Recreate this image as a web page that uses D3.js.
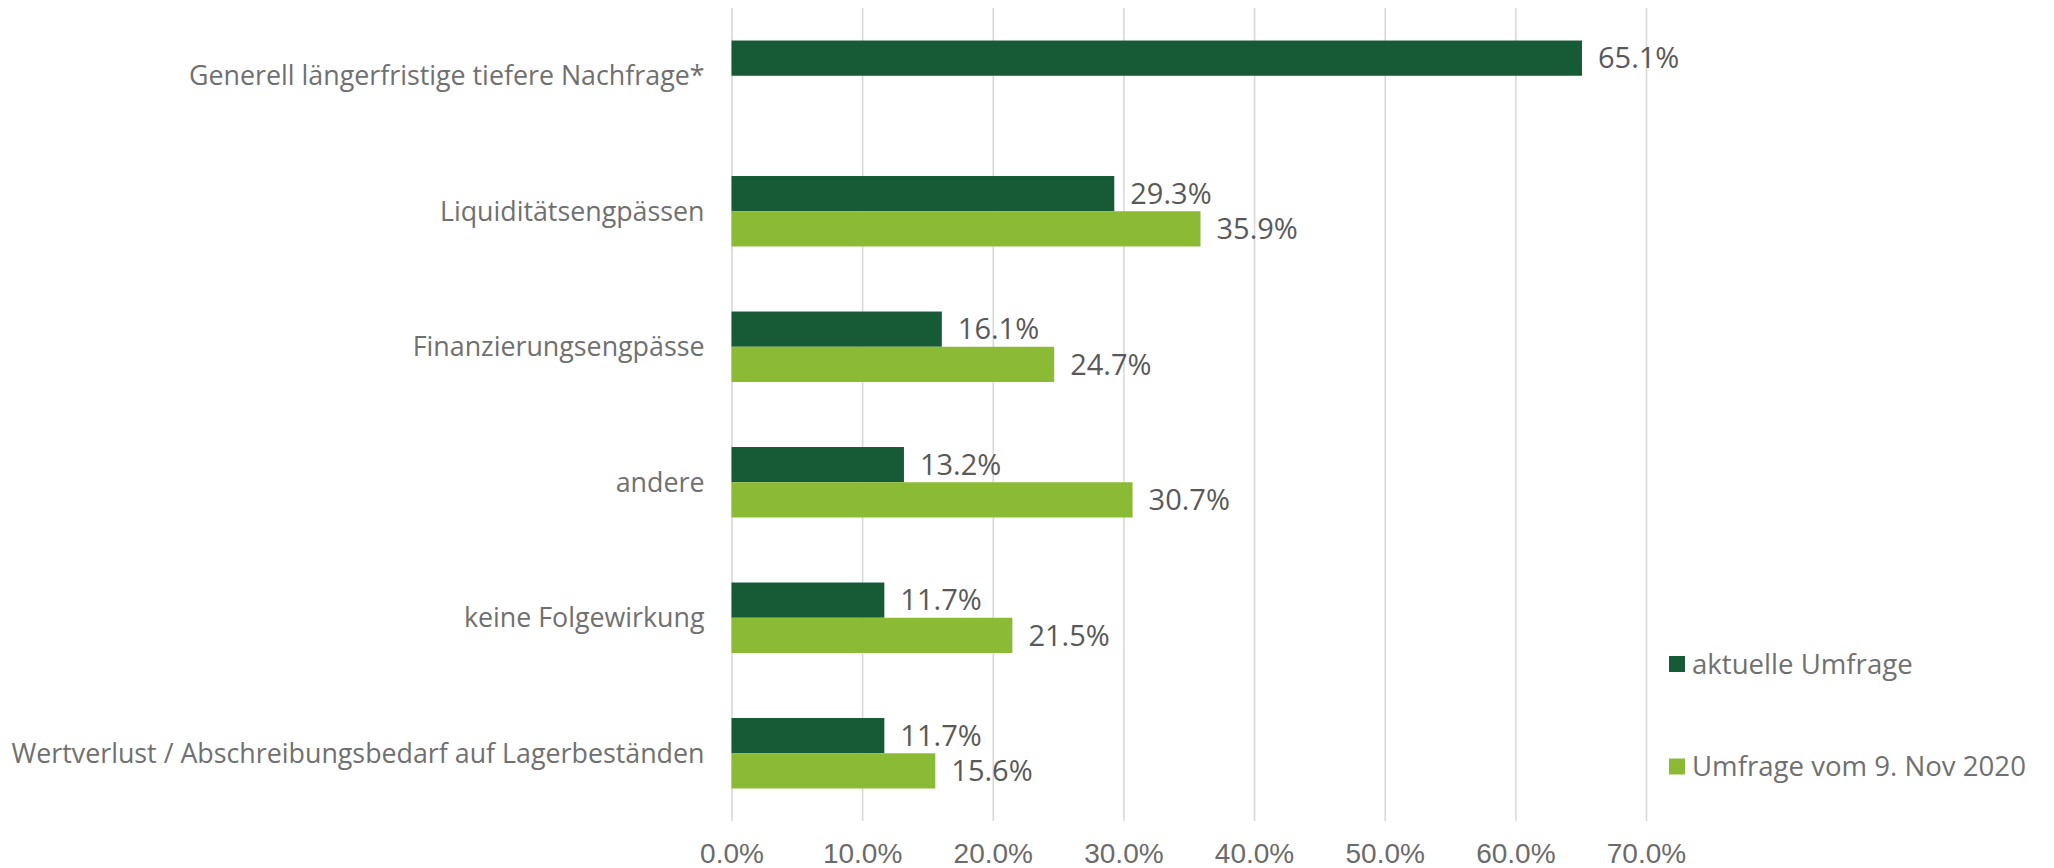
<!DOCTYPE html>
<html>
<head>
<meta charset="utf-8">
<script src="https://cdn.jsdelivr.net/npm/d3@7"></script>
<style>
  html, body { margin: 0; padding: 0; background: #fff; }
  svg { display: block; font-family: "Open Sans", "Noto Sans", sans-serif; }
</style>
</head>
<body>
<div id="chart"></div>
<script>
// chart data
const categories = [
  'Generell längerfristige tiefere Nachfrage*',
  'Liquiditätsengpässen',
  'Finanzierungsengpässe',
  'andere',
  'keine Folgewirkung',
  'Wertverlust / Abschreibungsbedarf auf Lagerbeständen'
];
const seriesNames = ['aktuelle Umfrage', 'Umfrage vom 9. Nov 2020'];
const aktuell = [65.1, 29.3, 16.1, 13.2, 11.7, 11.7];
const nov2020 = [null, 35.9, 24.7, 30.7, 21.5, 15.6];
const xTicks = [0, 10, 20, 30, 40, 50, 60, 70];
const colors = ['#165b35', '#8bbb35'];

const width = 2054, height = 868;
const margin = { top: 8, right: 408, bottom: 47, left: 731.5 };
const innerW = width - margin.left - margin.right;
const innerH = height - margin.top - margin.bottom;

const svg = d3.select('#chart').append('svg')
  .attr('width', width).attr('height', height)
  .attr('viewBox', `0 0 ${width} ${height}`);

const g = svg.append('g').attr('transform', `translate(${margin.left},${margin.top})`);

const x = d3.scaleLinear().domain([0, 70]).range([0, innerW]);
const y = d3.scaleBand().domain(categories).range([0, innerH]).paddingInner(0).paddingOuter(0);
// two bars per category, together about half of the band
const ySub = d3.scaleBand().domain([0, 1]).range([y.bandwidth() * 0.24, y.bandwidth() * 0.76]);

// gridlines + tick labels
const xAxis = d3.axisBottom(x).tickValues(xTicks).tickSize(-innerH).tickPadding(22)
  .tickFormat(d => d.toFixed(1) + '%');
const ax = g.append('g').attr('transform', `translate(0,${innerH})`).call(xAxis);
ax.select('.domain').remove();
ax.selectAll('.tick line').attr('stroke', '#d9d9d9').attr('stroke-width', 1.6);
ax.selectAll('.tick text').attr('fill', '#6b6b6b').style('font-size', '28px');

// bars
const rows = categories.map((c, i) => ({ cat: c, vals: [aktuell[i], nov2020[i]] }));
const grp = g.selectAll('g.cat').data(rows).enter().append('g')
  .attr('class', 'cat')
  .attr('transform', d => `translate(0,${y(d.cat)})`);

const bars = grp.selectAll('g.bar')
  .data(d => d.vals.map((v, k) => ({ v, k })).filter(b => b.v != null))
  .enter().append('g').attr('class', 'bar');

bars.append('rect')
  .attr('x', 0)
  .attr('y', d => ySub(d.k))
  .attr('width', d => x(d.v))
  .attr('height', ySub.bandwidth())
  .attr('fill', d => colors[d.k]);

bars.append('text')
  .attr('x', d => x(d.v) + 16)
  .attr('y', d => ySub(d.k) + ySub.bandwidth() / 2)
  .attr('dy', '0.35em')
  .attr('fill', '#595959')
  .style('font-size', '29px')
  .text(d => d.v.toFixed(1) + '%');

// category labels
g.selectAll('text.cat-label').data(categories).enter().append('text')
  .attr('class', 'cat-label')
  .attr('x', -27)
  .attr('y', d => y(d) + y.bandwidth() / 2)
  .attr('dy', '0.35em')
  .attr('text-anchor', 'end')
  .attr('fill', '#707070')
  .style('font-size', '26.8px')
  .text(d => d);

// legend
const legend = svg.append('g').attr('transform', 'translate(1669,0)');
const legY = [664, 766.5];
seriesNames.forEach((name, k) => {
  const item = legend.append('g').attr('transform', `translate(0,${legY[k]})`);
  item.append('rect').attr('x', 0).attr('y', -8).attr('width', 16).attr('height', 16).attr('fill', colors[k]);
  item.append('text').attr('x', 23).attr('y', 0).attr('dy', '0.35em')
    .attr('fill', '#707070').style('font-size', '27.6px').text(name);
});
</script>
</body>
</html>
